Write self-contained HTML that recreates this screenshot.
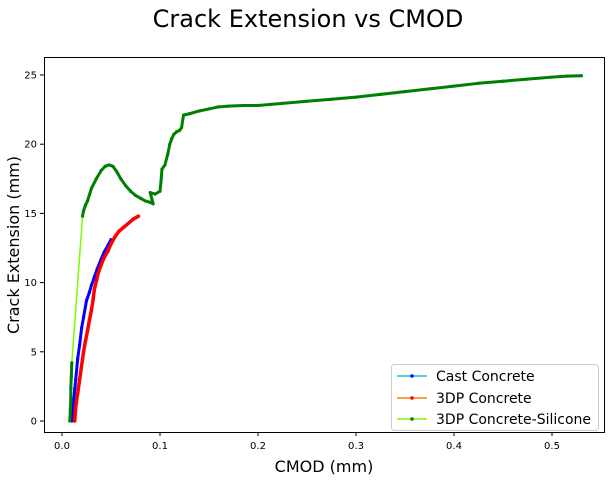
<!DOCTYPE html>
<html><head><meta charset="utf-8"><style>
body{margin:0;background:#fff;font-family:"Liberation Sans","DejaVu Sans",sans-serif;}
svg text{font-family:"DejaVu Sans","Liberation Sans",sans-serif;}
</style></head><body>
<svg id="c" width="611" height="481">
<text x="308" y="27" text-anchor="middle" font-size="24">Crack Extension vs CMOD</text>
<g id="plot"></g>
<rect x="44.5" y="57.5" width="560" height="375" fill="none" stroke="#000" stroke-width="1"/>
<text x="324" y="472" text-anchor="middle" font-size="16">CMOD (mm)</text>
<text transform="translate(19,245) rotate(-90)" text-anchor="middle" font-size="16">Crack Extension (mm)</text>
<g>
<rect x="391.5" y="364.5" width="207" height="66" rx="3" fill="#fff" stroke="#ccc"/>
<g><line x1="397" y1="376" x2="427" y2="376" stroke="#17becf" stroke-width="1.5"/><circle cx="412" cy="376" r="1.8" fill="#00f"/><text x="436" y="381" font-size="14">Cast Concrete</text></g>
<g><line x1="397" y1="398" x2="427" y2="398" stroke="#ff7f0e" stroke-width="1.5"/><circle cx="412" cy="398" r="1.8" fill="#f00"/><text x="436" y="403" font-size="14">3DP Concrete</text></g>
<g><line x1="397" y1="419" x2="427" y2="419" stroke="#7cfc00" stroke-width="1.5"/><circle cx="412" cy="419" r="1.8" fill="#008000"/><text x="436" y="424" font-size="14">3DP Concrete-Silicone</text></g>
</g>
</svg>
<script>
const xTicks=[0,0.1,0.2,0.3,0.4,0.5];
const xTickLabels=["0.0","0.1","0.2","0.3","0.4","0.5"];
const yTicks=[0,5,10,15,20,25];
const castX=[0.010,0.011,0.012,0.013,0.014,0.016,0.018,0.020,0.022,0.025,0.028,0.030,0.033,0.036,0.040,0.043,0.047,0.050];
const castY=[0,0.8,1.5,2.3,3,4.5,5.5,6.7,7.5,8.7,9.3,9.8,10.4,11,11.7,12.2,12.7,13.1];
const dpX=[0.013,0.014,0.016,0.018,0.019,0.021,0.022,0.024,0.026,0.028,0.030,0.032,0.033,0.035,0.037,0.040,0.043,0.047,0.050,0.054,0.058,0.063,0.068,0.073,0.078];
const dpY=[0,1,2,3,3.5,4.5,5,5.8,6.5,7.3,8,8.9,9.5,10.1,10.7,11.3,11.8,12.3,12.8,13.3,13.7,14.0,14.3,14.6,14.8];
const silX=[0.008,0.0085,0.009,0.009,0.0095,0.010,0.021,0.022,0.024,0.026,0.030,0.035,0.040,0.044,0.048,0.052,0.056,0.060,0.065,0.070,0.075,0.080,0.085,0.090,0.093,0.090,0.095,0.100,0.101,0.102,0.105,0.108,0.110,0.112,0.114,0.117,0.120,0.122,0.124,0.130,0.140,0.150,0.160,0.170,0.185,0.200,0.225,0.250,0.275,0.300,0.325,0.350,0.375,0.400,0.425,0.450,0.475,0.500,0.515,0.530];
const silY=[0,0.8,1.6,2.4,3.2,4.2,14.8,15.2,15.6,15.9,16.8,17.5,18.1,18.4,18.5,18.4,18.0,17.5,17.0,16.6,16.3,16.1,15.9,15.8,15.7,16.5,16.4,16.6,17.3,18.2,18.5,19.3,20.0,20.4,20.7,20.9,21.0,21.2,22.1,22.2,22.4,22.55,22.7,22.75,22.8,22.8,22.95,23.1,23.25,23.4,23.6,23.8,24.0,24.2,24.4,24.55,24.7,24.85,24.92,24.95];
const X0=62,XS=980,Y0=421,YS=13.84;
const sx=v=>X0+v*XS, sy=v=>Y0-v*YS;
const NS="http://www.w3.org/2000/svg";
const plot=document.getElementById('plot');
function mk(t,a,p){const e=document.createElementNS(NS,t);for(const k in a)e.setAttribute(k,a[k]);(p||plot).appendChild(e);return e;}
xTicks.forEach((v,i)=>{
  const g=mk('g',{});
  
  
  mk('line',{x1:sx(v),x2:sx(v),y1:432,y2:436,stroke:'#000'},g);
  const t=mk('text',{x:sx(v),y:449,'text-anchor':'middle','font-size':10},g);t.textContent=xTickLabels[i];
});
yTicks.forEach(v=>{
  const g=mk('g',{});
  
  
  mk('line',{x1:40,x2:44,y1:sy(v),y2:sy(v),stroke:'#000'},g);
  const t=mk('text',{x:37,y:sy(v)+3.5,'text-anchor':'end','font-size':10},g);t.textContent=v;
});
function series(xs,ys,lc,mc,name,w){
  const g=mk('g',{});
  
  
  const pts=xs.map((x,i)=>[sx(x),sy(ys[i])]);
  mk('polyline',{points:pts.map(p=>p.join(',')).join(' '),fill:'none',stroke:lc,'stroke-width':1.5},g);
  for(let i=1;i<pts.length;i++){
    const d=Math.hypot(pts[i][0]-pts[i-1][0],pts[i][1]-pts[i-1][1]);
    if(d<30) mk('line',{x1:pts[i-1][0],y1:pts[i-1][1],x2:pts[i][0],y2:pts[i][1],stroke:mc,'stroke-width':w,'stroke-linecap':'round'},g);
  }
  pts.forEach(p=>mk('circle',{cx:p[0],cy:p[1],r:1.6,fill:mc},g));
}
series(castX,castY,'#17becf','#0000ff','series-cast-concrete',3);
series(dpX,dpY,'#ff7f0e','#ff0000','series-3dp-concrete',3.5);
series(silX,silY,'#7cfc00','#008000','series-3dp-concrete-silicone',3);
</script>
</body></html>
